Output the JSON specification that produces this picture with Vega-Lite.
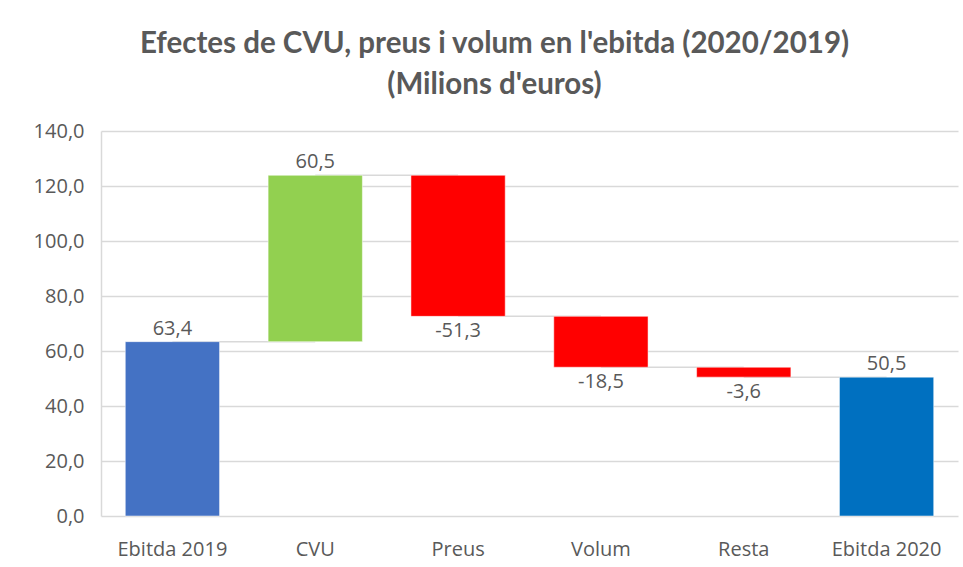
{
  "$schema": "https://vega.github.io/schema/vega-lite/v6.json",
  "autosize": "none",
  "width": 857,
  "height": 385,
  "padding": {"left": 101, "top": 131, "right": 5, "bottom": 51},
  "background": "white",
  "title": {
    "text": ["Efectes de CVU, preus i volum en l'ebitda (2020/2019)", "(Milions d'euros)"],
    "font": "Lato",
    "fontSize": 29.5,
    "fontWeight": "bold",
    "color": "#595959",
    "lineHeight": 41,
    "anchor": "middle",
    "dx": -35,
    "offset": 21
  },
  "datasets": {
    "bars": [
      {"cat": "Ebitda 2019", "start": 0, "end": 63.4, "label": "63,4", "kind": "total1", "side": "up", "next": "CVU"},
      {"cat": "CVU", "start": 63.4, "end": 123.9, "label": "60,5", "kind": "up", "side": "up", "next": "Preus"},
      {"cat": "Preus", "start": 123.9, "end": 72.6, "label": "-51,3", "kind": "down", "side": "down", "next": "Volum"},
      {"cat": "Volum", "start": 72.6, "end": 54.1, "label": "-18,5", "kind": "down", "side": "down", "next": "Resta"},
      {"cat": "Resta", "start": 54.1, "end": 50.5, "label": "-3,6", "kind": "down", "side": "down", "next": "Ebitda 2020"},
      {"cat": "Ebitda 2020", "start": 0, "end": 50.5, "label": "50,5", "kind": "total2", "side": "up", "next": null}
    ]
  },
  "data": {"name": "bars"},
  "encoding": {
    "x": {
      "field": "cat",
      "type": "nominal",
      "sort": null,
      "scale": {"paddingInner": 0.34, "paddingOuter": 0.17},
      "axis": {
        "title": null,
        "labelAngle": 0,
        "labelFont": "Open Sans",
        "labelFontSize": 20,
        "labelColor": "#595959",
        "labelPadding": 23,
        "ticks": false,
        "domain": false,
        "grid": false
      }
    }
  },
  "layer": [
    {
      "transform": [{"filter": "datum.next != null"}],
      "mark": {"type": "rule", "color": "#D9D9D9", "strokeWidth": 1.5},
      "encoding": {
        "x2": {"field": "next"},
        "y": {"field": "end", "type": "quantitative"}
      }
    },
    {
      "mark": {"type": "bar", "stroke": "white", "strokeWidth": 0.5},
      "encoding": {
        "y": {
          "field": "start",
          "type": "quantitative",
          "scale": {"domain": [0, 140], "nice": false},
          "axis": {
            "title": null,
            "values": [0, 20, 40, 60, 80, 100, 120, 140],
            "labelExpr": "replace(format(datum.value, '.1f'), '.', ',')",
            "labelFont": "Open Sans",
            "labelFontSize": 20,
            "labelColor": "#595959",
            "labelPadding": 17,
            "ticks": false,
            "domain": true,
            "domainColor": "#D9D9D9",
            "domainWidth": 1.5,
            "gridColor": "#D9D9D9",
            "gridWidth": 1.5
          }
        },
        "y2": {"field": "end"},
        "color": {
          "field": "kind",
          "type": "nominal",
          "scale": {
            "domain": ["total1", "up", "down", "total2"],
            "range": ["#4472C4", "#92D050", "#FF0000", "#0070C0"]
          },
          "legend": null
        }
      }
    },
    {
      "transform": [{"filter": "datum.side == 'up'"}],
      "mark": {"type": "text", "baseline": "bottom", "dy": -3, "font": "Open Sans", "fontSize": 20, "color": "#595959"},
      "encoding": {
        "y": {"field": "end", "type": "quantitative"},
        "text": {"field": "label"}
      }
    },
    {
      "transform": [{"filter": "datum.side == 'down'"}],
      "mark": {"type": "text", "baseline": "top", "dy": 5, "font": "Open Sans", "fontSize": 20, "color": "#595959"},
      "encoding": {
        "y": {"field": "end", "type": "quantitative"},
        "text": {"field": "label"}
      }
    }
  ],
  "config": {"view": {"stroke": null}}
}
